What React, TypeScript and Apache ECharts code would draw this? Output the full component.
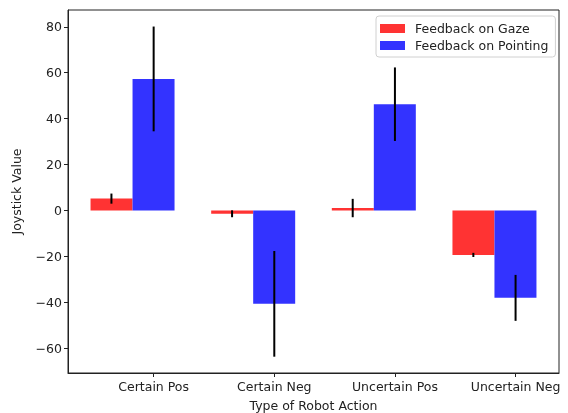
import React, { useEffect, useRef } from "react";
import * as echarts from "echarts";

const categories = ["Certain Pos", "Certain Neg", "Uncertain Pos", "Uncertain Neg"];
const gazeMean = [5.2, -1.4, 1.1, -19.3];
const gazeErr = [2.2, 1.5, 4.0, 0.9];
const pointMean = [57.3, -40.6, 46.3, -38.0];
const pointErr = [22.8, 23.0, 16.0, 10.0];
const yTicks = [-60, -40, -20, 0, 20, 40, 60, 80];

const BAR_W = 0.35;
const FONT = "DejaVu Sans";
const FS = 12.5;

export default function App() {
  const ref = useRef<HTMLDivElement>(null);
  useEffect(() => {
    if (!ref.current) return;
    const chart = echarts.init(ref.current, null, { renderer: "svg" });
    const tickPos = categories.map((_, i) => i);
    const groupCenter = categories.map((_, i) => i - BAR_W / 2);
    const errData: number[][] = [];
    categories.forEach((_, i) => {
      errData.push([i - BAR_W, gazeMean[i] - gazeErr[i], gazeMean[i] + gazeErr[i]]);
      errData.push([i, pointMean[i] - pointErr[i], pointMean[i] + pointErr[i]]);
    });
    chart.setOption({
      animation: false,
      textStyle: { fontFamily: FONT },
      grid: {
        left: 68,
        top: 10,
        right: 9,
        bottom: 40,
        show: true,
        borderColor: "#222",
        borderWidth: 1,
        outerBoundsMode: "none",
        containLabel: false,
      },
      legend: {
        orient: "vertical",
        left: 376,
        top: 16,
        itemWidth: 25,
        itemHeight: 9,
        itemGap: 4,
        icon: "rect",
        padding: [6, 7, 5, 4],
        borderColor: "#d0d0d0",
        borderWidth: 1,
        borderRadius: 3,
        textStyle: { fontFamily: FONT, fontSize: FS, color: "#222", padding: [0, 0, 0, 5] },
        data: ["Feedback on Gaze", "Feedback on Pointing"],
      },
      xAxis: {
        type: "value",
        min: -0.71,
        max: 3.36,
        name: "Type of Robot Action",
        nameLocation: "middle",
        nameGap: 26,
        nameTextStyle: { fontFamily: FONT, fontSize: FS, color: "#222" },
        splitLine: { show: false },
        axisLine: { show: true, onZero: false, lineStyle: { color: "#222" } },
        axisTick: { show: true, length: 4, customValues: tickPos, lineStyle: { color: "#222" } },
        axisLabel: {
          customValues: tickPos,
          formatter: (v: number) => categories[Math.round(v)] ?? "",
          fontFamily: FONT,
          fontSize: FS,
          color: "#222",
          margin: 7,
        },
      },
      yAxis: {
        type: "value",
        min: -70.7,
        max: 87.3,
        name: "Joystick Value",
        nameLocation: "middle",
        nameGap: 45,
        nameTextStyle: { fontFamily: FONT, fontSize: FS, color: "#222" },
        splitLine: { show: false },
        axisLine: { show: true, onZero: false, lineStyle: { color: "#222" } },
        axisTick: { show: true, length: 4, customValues: yTicks, lineStyle: { color: "#222" } },
        axisLabel: {
          customValues: yTicks,
          formatter: (v: number) => (v < 0 ? "\u2212" + Math.abs(v) : String(v)),
          fontFamily: FONT,
          fontSize: FS,
          color: "#222",
          margin: 6,
        },
      },
      series: [
        {
          name: "Feedback on Gaze",
          type: "bar",
          barWidth: 42,
          barGap: "0%",
          itemStyle: { color: "#ff3333" },
          data: groupCenter.map((x, i) => [x, gazeMean[i]]),
        },
        {
          name: "Feedback on Pointing",
          type: "bar",
          barWidth: 42,
          barGap: "0%",
          itemStyle: { color: "#3333ff" },
          data: groupCenter.map((x, i) => [x, pointMean[i]]),
        },
        {
          type: "custom",
          silent: true,
          z: 10,
          data: errData,
          encode: { x: 0, y: [1, 2] },
          renderItem: (params: any, api: any) => {
            const x = api.value(0);
            const lo = api.coord([x, api.value(1)]);
            const hi = api.coord([x, api.value(2)]);
            return {
              type: "line",
              shape: { x1: lo[0], y1: lo[1], x2: hi[0], y2: hi[1] },
              style: { stroke: "#000", lineWidth: 2 },
            };
          },
        },
      ],
    });
    return () => chart.dispose();
  }, []);
  return <div ref={ref} style={{ position: "fixed", left: 0, top: 0, width: 568, height: 413 }} />;
}
